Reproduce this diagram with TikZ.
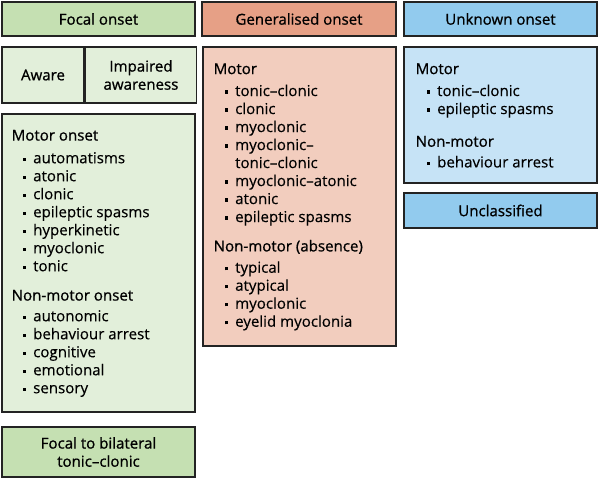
\documentclass[tikz,border=0pt]{standalone}
\usepackage{fontspec}
\setmainfont{Open Sans}[FakeBold=0.3]
\newfontfamily\hdfont{Open Sans}[FakeBold=0.9]
\usepackage{tikz}
\usetikzlibrary{positioning}
\definecolor{focalhead}{RGB}{197,224,178}
\definecolor{focalbody}{RGB}{226,239,218}
\definecolor{genhead}{RGB}{230,160,134}
\definecolor{genbody}{RGB}{242,205,190}
\definecolor{unkhead}{RGB}{146,203,238}
\definecolor{unkbody}{RGB}{198,227,246}
\definecolor{boxline}{RGB}{35,35,35}
% list helpers
\newcommand{\itm}[1]{\hspace*{8.2pt}\rule[1.8pt]{2.5pt}{2.5pt}\hspace*{5.4pt}#1}
\newcommand{\cnt}[1]{\hspace*{16.1pt}#1}
\newcommand{\hd}[1]{\rule{0pt}{10pt}{\hdfont #1}}

\begin{document}
\begin{tikzpicture}[x=0.75pt,y=-0.75pt, line width=1.1pt,
    box/.style={draw=boxline, inner sep=0pt, align=center,
        font=\fontsize{11.3}{13.6}\selectfont},
    lst/.style={inner sep=0pt, align=left, anchor=north west,
        font=\fontsize{11.3}{13.5}\selectfont}]
    \useasboundingbox (0,0) rectangle (600,478);

    % Column headers
    \node[box, fill=focalhead, minimum width=144.75pt, minimum height=25.5pt] (focal) at (98.5,19) {\hdfont Focal onset};
    \node[box, fill=genhead, minimum width=145.5pt, minimum height=25.5pt] (gen) at (299,19) {\hdfont Generalised onset};
    \node[box, fill=unkhead, minimum width=144.75pt, minimum height=25.5pt] (unk) at (500.5,19) {\hdfont Unknown onset};

    % Focal column
    \node[box, fill=focalbody, minimum width=61.5pt, minimum height=42pt] (aware) at (43,75) {\hdfont Aware};
    \node[box, fill=focalbody, minimum width=83.25pt, minimum height=42pt, right=0pt of aware] (impaired) {\hdfont Impaired\\\hdfont awareness};
    \node[box, fill=focalbody, minimum width=144.75pt, minimum height=223.5pt] (focalbox) at (98.5,263) {};
    \node[lst] (focaltxt) at (11,126.5) {\hd{Motor onset}\\[3.5pt]
        \itm{automatisms}\\ \itm{atonic}\\ \itm{clonic}\\ \itm{epileptic spasms}\\
        \itm{hyperkinetic}\\ \itm{myoclonic}\\ \itm{tonic}\\[8.5pt]
        \hd{Non-motor onset}\\[2pt]
        \itm{autonomic}\\ \itm{behaviour arrest}\\ \itm{cognitive}\\ \itm{emotional}\\ \itm{sensory}};
    \node[box, fill=focalhead, minimum width=144.75pt, minimum height=37.5pt] (bilateral) at (98.5,452) {\hdfont Focal to bilateral\\\hdfont tonic\textendash clonic};

    % Generalised column
    \node[box, fill=genbody, minimum width=144.75pt, minimum height=224.25pt] (genbox) at (299.5,196.5) {};
    \node[lst] (gentxt) at (213,60) {\hd{Motor}\\[3pt]
        \itm{tonic\textendash clonic}\\ \itm{clonic}\\ \itm{myoclonic}\\ \itm{myoclonic\textendash}\\
        \cnt{tonic\textendash clonic}\\ \itm{myoclonic\textendash atonic}\\ \itm{atonic}\\ \itm{epileptic spasms}\\[8.5pt]
        \hd{Non-motor (absence)}\\[2.5pt]
        \itm{typical}\\ \itm{atypical}\\ \itm{myoclonic}\\ \itm{eyelid myoclonia}};

    % Unknown column
    \node[box, fill=unkbody, minimum width=144.75pt, minimum height=102pt] (unkbox) at (500.5,115) {};
    \node[lst] (unktxt) at (415,60) {\hd{Motor}\\[3pt]
        \itm{tonic\textendash clonic}\\ \itm{epileptic spasms}\\[11pt]
        \hd{Non-motor}\\[2pt]
        \itm{behaviour arrest}};
    \node[box, fill=unkhead, minimum width=144.75pt, minimum height=26.25pt] (unclass) at (500.5,210.5) {\hdfont Unclassified};
\end{tikzpicture}
\end{document}
